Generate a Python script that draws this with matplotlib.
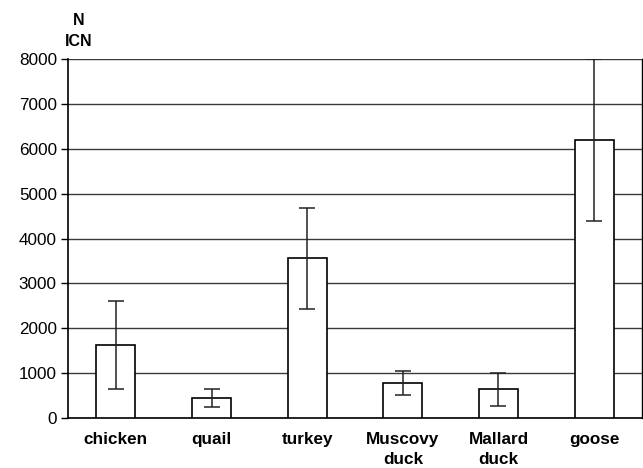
import matplotlib
matplotlib.use("Agg")
import matplotlib.pyplot as plt

categories = ["chicken", "quail", "turkey", "Muscovy\nduck", "Mallard\nduck", "goose"]
means = [1620, 440, 3560, 780, 640, 6200]
sds = [980, 200, 1120, 270, 370, 1800]
yticks = [0, 1000, 2000, 3000, 4000, 5000, 6000, 7000, 8000]

plt.rcParams["font.family"] = ["Liberation Sans", "DejaVu Sans"]

fig = plt.figure(figsize=(6.43, 4.68), dpi=100)
ax = fig.add_axes([68 / 643, 1 - 418 / 468, 574 / 643, 359 / 468])

x = list(range(len(categories)))
ax.bar(x, means, width=0.41, color="white", edgecolor="black", linewidth=1.2, zorder=3)
ax.errorbar(x, means, yerr=sds, fmt="none", ecolor="#222222", elinewidth=1.1,
            capsize=5.5, capthick=1.1, zorder=4)

ax.set_xlim(-0.5, len(categories) - 0.5)
ax.set_ylim(0, 8000)
ax.set_yticks(yticks)
ax.set_yticklabels([str(v) for v in yticks], fontsize=12.3)
ax.set_xticks(x)
ax.set_xticklabels(categories, fontsize=12.3, fontweight="bold", linespacing=1.45)
ax.tick_params(axis="x", length=0, pad=10)
ax.tick_params(axis="y", length=5, width=1, direction="out", pad=3)

ax.yaxis.grid(True, color="#3a3a3a", linewidth=1)
ax.set_axisbelow(True)
for side in ["left", "bottom", "right"]:
    ax.spines[side].set_color("black")
    ax.spines[side].set_linewidth(1.2)
ax.spines["top"].set_visible(False)
ax.spines["right"].set_linewidth(1)

fig.text(79 / 643, 1 - 31 / 468, "N\nICN", ha="center", va="center",
         fontsize=11.5, fontweight="bold", linespacing=1.5)

fig.savefig("out.png", dpi=100)
